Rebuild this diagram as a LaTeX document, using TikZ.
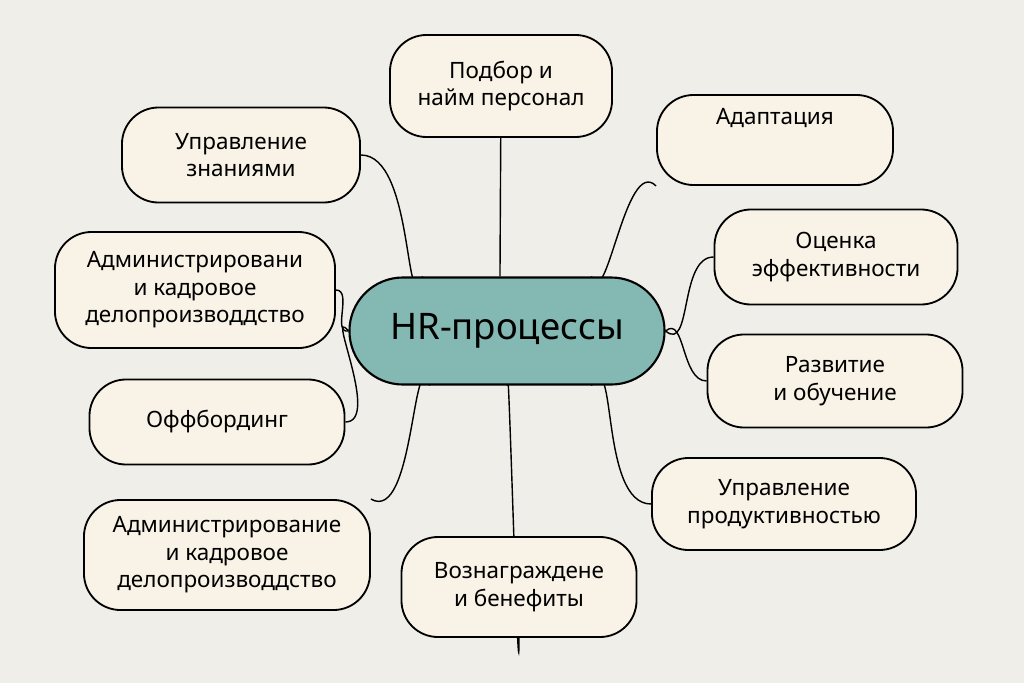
\documentclass[tikz,border=0pt]{standalone}
\usepackage{fontspec}
\setmainfont{Noto Sans}
\pgfdeclarelayer{bg}
\pgfsetlayers{bg,main}
\definecolor{bgpaper}{HTML}{EFEEE9}
\definecolor{boxfill}{HTML}{F8F3E6}
\definecolor{hubfill}{HTML}{84B8B3}
\tikzset{
  topic/.style={draw=black, line width=1.3pt, fill=boxfill, rounded corners=26pt,
    align=center, font=\fontsize{16}{19.5}\selectfont, inner sep=0pt},
  hub/.style={draw=black, line width=1.5pt, fill=hubfill, rounded corners=38pt,
    font=\fontsize{26}{30}\selectfont\bfseries, minimum width=7.875cm, minimum height=2.675cm},
  link/.style={line width=1pt}
}
\begin{document}
\begin{tikzpicture}[x=0.025cm,y=-0.025cm]
  \useasboundingbox (0,0) rectangle (1024,683);
  \node (hr) [hub] at (507,331) {HR-процессы};
  \node (t1) [topic, minimum width=5.55cm, minimum height=2.55cm] at (501,86) {Подбор и\\найм персонал};
  \node (t2) [topic, minimum width=5.9cm, minimum height=2.25cm] at (775,140) {Адаптация\\[14pt]};
  \node (t3) [topic, minimum width=6.075cm, minimum height=2.375cm] at (836,257) {Оценка\\эффективности};
  \node (t4) [topic, minimum width=6.375cm, minimum height=2.325cm] at (835,381) {Развитие\\и обучение};
  \node (t5) [topic, minimum width=6.6cm, minimum height=2.3cm] at (784,504) {Управление\\продуктивностью};
  \node (t6) [topic, minimum width=5.875cm, minimum height=2.5cm] at (519,587) {Вознаграждене\\и бенефиты};
  \node (t7) [topic, minimum width=7.15cm, minimum height=2.75cm] at (227,555) {Администрирование\\и кадровое\\делопроизводдство};
  \node (t8) [topic, minimum width=6.375cm, minimum height=2.125cm] at (217,422) {Оффбординг};
  \node (t9) [topic, minimum width=7cm, minimum height=2.9cm] at (195,290) {Администрировани\\и кадровое\\делопроизводдство};
  \node (t10) [topic, minimum width=5.95cm, minimum height=2.375cm] at (241,155) {Управление\\знаниями};
  \begin{pgfonlayer}{bg}
    \fill[bgpaper] (0,0) rectangle (1024,683);
    \draw [link] ([xshift=-5pt]hr.north) -- (t1);
    \draw [link] ([xshift=60pt]hr.north) to[out=-70, in=-225] (t2.south west);
    \draw [link] (hr.east) to[out=-40, in=-180] (t3.west);
    \draw [link] (hr.east) to[out=40, in=180] (t4.west);
    \draw [link] ([xshift=60pt]hr.south) to[out=60, in=180] (t5.west);
    \draw [link] (hr.south) to[out=90, in=-90] (t6);
    \draw [link] ([xshift=-55pt]hr.south) to[out=110, in=-30] (t7.north east);
    \draw [link] (hr.west) to[out=130, in=0] (t8.east);
    \draw [link] (hr.west) to[out=-170, in=0] (t9.east);
    \draw [link] ([xshift=-60pt]hr.north) to[out=-110, in=0] (t10.east);
  \end{pgfonlayer}
\end{tikzpicture}
\end{document}
